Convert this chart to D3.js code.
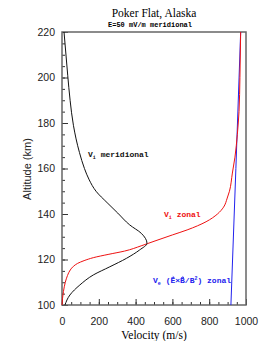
<!DOCTYPE html>
<html lang="en">
<head>
    <meta charset="UTF-8">
    <title>Poker Flat, Alaska</title>
    <script src="https://d3js.org/d3.v7.min.js"></script>
    <style>
        body { margin: 0; background: #fff; }
        .tick text { font-family: "Liberation Sans", Arial, sans-serif; font-size: 10.5px; fill: #222; }
        .tick line { stroke: #333; }
        .domain { stroke: none; }
        .lbl { font-family: "Liberation Mono", monospace; font-size: 8px; font-weight: bold; }
    </style>
</head>
<body>
    <div id="chart"></div>
    <script>
        // altitude (km) / velocity (m/s)
        const meridAlt = [100, 104.4, 108.8, 113.2, 116.8, 120.5, 124.2, 127.1, 131.5, 135.2, 140.4, 145, 150, 155, 160, 167, 179, 190, 201, 220];
        const meridVel = [16, 43, 97, 170, 260, 350, 422, 462, 431, 368, 303, 245, 185, 148, 122, 95, 62, 44, 31, 11];

        const zonalAlt = [100, 103, 106, 110, 113, 115.4, 117, 118.3, 119.5, 120.8, 122.3, 123.7, 126, 128, 130.8, 133, 136.6, 140, 143, 147, 150, 158, 165, 175, 185, 200, 220];
        const zonalVel = [0, 3, 8, 18, 30, 45, 62, 85, 120, 170, 255, 340, 430, 500, 600, 680, 783, 845, 878, 898, 910, 926, 940, 953, 962, 967, 971];

        const exbAlt = [100, 160, 220];
        const exbVel = [918, 945, 971];

        const xTicks = [0, 200, 400, 600, 800, 1000];
        const yTicks = [100, 120, 140, 160, 180, 200, 220];

        const W = 259, H = 341;
        const margin = { top: 32, right: 13, bottom: 36, left: 62 };

        const svg = d3.select("#chart").append("svg")
            .attr("width", W)
            .attr("height", H);

        const x = d3.scaleLinear().domain([0, 1000]).range([margin.left, W - margin.right]);
        const y = d3.scaleLinear().domain([100, 220]).range([H - margin.bottom, margin.top]);

        // minor ticks
        svg.append("g")
            .attr("transform", `translate(0,${y(100)})`)
            .call(d3.axisBottom(x).tickValues(d3.range(0, 1001, 50)).tickFormat("").tickSizeInner(-3).tickSizeOuter(0));
        svg.append("g")
            .attr("transform", `translate(${x(0)},0)`)
            .call(d3.axisLeft(y).tickValues(d3.range(100, 221, 5)).tickFormat("").tickSizeInner(-3).tickSizeOuter(0));

        // major ticks + labels
        svg.append("g")
            .attr("transform", `translate(0,${y(100)})`)
            .call(d3.axisBottom(x).tickValues(xTicks).tickFormat(d3.format("d")).tickSizeInner(-6).tickSizeOuter(0).tickPadding(13));
        svg.append("g")
            .attr("transform", `translate(${x(0)},0)`)
            .call(d3.axisLeft(y).tickValues(yTicks).tickFormat(d3.format("d")).tickSizeInner(-6).tickSizeOuter(0).tickPadding(7));

        // frame
        svg.append("rect")
            .attr("x", x(0)).attr("y", y(220))
            .attr("width", x(1000) - x(0)).attr("height", y(100) - y(220))
            .attr("fill", "none")
            .attr("stroke", "#666")
            .attr("stroke-width", 1.5);

        const line = d3.line()
            .x(d => x(d[1]))
            .y(d => y(d[0]))
            .curve(d3.curveMonotoneY);

        const series = [
            { alt: exbAlt, vel: exbVel, color: "#2222ee" },
            { alt: zonalAlt, vel: zonalVel, color: "#ee1111" },
            { alt: meridAlt, vel: meridVel, color: "#111" }
        ];

        series.forEach(s => {
            svg.append("path")
                .datum(d3.zip(s.alt, s.vel))
                .attr("fill", "none")
                .attr("stroke", s.color)
                .attr("stroke-width", 1)
                .attr("d", line);
        });

        // titles
        svg.append("text")
            .attr("x", 154).attr("y", 17)
            .attr("text-anchor", "middle")
            .attr("font-family", "Liberation Serif, serif")
            .attr("font-size", 11.5)
            .text("Poker Flat, Alaska");

        svg.append("text")
            .attr("x", 150).attr("y", 27)
            .attr("text-anchor", "middle")
            .attr("font-family", "Liberation Mono, monospace")
            .attr("font-size", 7)
            .attr("font-weight", "bold")
            .text("E=50 mV/m meridional");

        svg.append("text")
            .attr("x", 154).attr("y", 339)
            .attr("text-anchor", "middle")
            .attr("font-family", "Liberation Serif, serif")
            .attr("font-size", 11.5)
            .text("Velocity (m/s)");

        svg.append("text")
            .attr("transform", `translate(31,169) rotate(-90)`)
            .attr("text-anchor", "middle")
            .attr("font-family", "Liberation Sans, Arial, sans-serif")
            .attr("font-size", 11)
            .attr("fill", "#222")
            .text("Altitude (km)");

        // curve labels
        const lab = (px, py, color, parts) => {
            const t = svg.append("text").attr("class", "lbl")
                .attr("x", px).attr("y", py).attr("fill", color);
            parts.forEach(p => {
                const ts = t.append("tspan").text(p[0]);
                if (p[1] === "sub") ts.attr("font-size", 5).attr("dy", 1.5);
                if (p[1] === "up") ts.attr("font-size", 5).attr("dy", -3);
                if (p[1] === "back") ts.attr("dy", p[2]);
            });
            return t;
        };

        lab(88, 157, "#111", [["V"], ["i", "sub"], [" meridional", "back", -1.5]]);
        lab(164, 217, "#ee1111", [["V"], ["i", "sub"], [" zonal", "back", -1.5]]);
        const blue = lab(153, 283, "#2222ee", [["V"], ["e", "sub"], [" (E\u00D7B/B", "back", -1.5], ["2", "up"], [") zonal", "back", 3]]);

        // vector arrows over E and B
        const node = blue.node();
        const full = node.textContent;
        [full.indexOf("E"), full.indexOf("B")].forEach(i => {
            const b = node.getExtentOfChar(i);
            const ax = b.x + 1, ay = b.y + 1.5, aw = b.width - 2;
            svg.append("path")
                .attr("d", `M${ax},${ay} H${ax + aw} M${ax + aw - 1.5},${ay - 1.2} L${ax + aw},${ay} L${ax + aw - 1.5},${ay + 1.2}`)
                .attr("fill", "none")
                .attr("stroke", "#2222ee")
                .attr("stroke-width", 0.7);
        });
    </script>
</body>
</html>
